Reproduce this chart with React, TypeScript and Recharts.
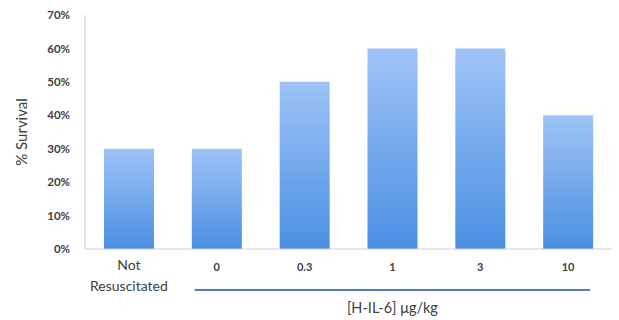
import React from "react";
import { BarChart, Bar, XAxis, YAxis, Label } from "recharts";

const categories = ["Not Resuscitated", "0", "0.3", "1", "3", "10"];
const survival = [0.3, 0.3, 0.5, 0.6, 0.6, 0.4];
const yTicks = [0, 0.1, 0.2, 0.3, 0.4, 0.5, 0.6, 0.7];

const data = categories.map((c, i) => ({ name: c, value: survival[i] }));

const FONT = "Lato, 'Open Sans', sans-serif";

const XTick = (props: any) => {
  const { x, y, payload } = props;
  if (payload.value === "Not Resuscitated") {
    return (
      <g>
        <text x={x} y={y} dy={7} textAnchor="middle" fontSize={14} fill="#404040" fontFamily={FONT}>
          Not
        </text>
        <text x={x} y={y} dy={28} textAnchor="middle" fontSize={14} fill="#404040" fontFamily={FONT}>
          Resuscitated
        </text>
      </g>
    );
  }
  return (
    <text x={x} y={y} dy={8} textAnchor="middle" fontSize={11} fontWeight="bold" fill="#404040" fontFamily={FONT}>
      {payload.value}
    </text>
  );
};

const GroupLabel = (props: any) => {
  const { viewBox } = props;
  const { x, y, width } = viewBox;
  const band = width / categories.length;
  const x1 = x + band + (band - 50) / 2 + 3;
  const x2 = x + width - (band - 50) / 2 - 3;
  return (
    <g>
      <line x1={x1} x2={x2} y1={y + 41} y2={y + 41} stroke="#4f7fc4" strokeWidth={2} />
      <text x={(x1 + x2) / 2} y={y + 64} textAnchor="middle" fontSize={14.5} fill="#404040" fontFamily={FONT}>
        [H-IL-6] μg/kg
      </text>
    </g>
  );
};

export default function App() {
  return (
    <div style={{ position: "absolute", left: 0, top: 0, width: 619, height: 320, background: "#fff" }}>
      <BarChart width={619} height={320} data={data} margin={{ top: 15, right: 7, left: 0, bottom: 0 }}>
        <defs>
          <linearGradient id="barGrad" x1="0" y1="0" x2="0" y2="1">
            <stop offset="0%" stopColor="#9fc3f7" />
            <stop offset="100%" stopColor="#4a8fe2" />
          </linearGradient>
        </defs>
        <XAxis
          dataKey="name"
          height={71}
          tickLine={false}
          tickSize={0}
          tickMargin={14}
          axisLine={{ stroke: "#d0d0d0" }}
          tick={<XTick />}
          interval={0}
        >
          <Label content={<GroupLabel />} />
        </XAxis>
        <YAxis
          width={85}
          domain={[0, 0.7]}
          ticks={yTicks}
          tickFormatter={(v: number) => `${Math.round(v * 100)}%`}
          tickLine={false}
          tickSize={0}
          tickMargin={15}
          axisLine={{ stroke: "#d0d0d0" }}
          tick={{ fontSize: 11.5, fontWeight: "bold", fill: "#404040", fontFamily: FONT }}
          interval={0}
        >
          <Label
            value="% Survival"
            angle={-90}
            position="insideLeft"
            offset={22}
            style={{ textAnchor: "middle", fontSize: 15, fill: "#404040", fontFamily: FONT }}
          />
        </YAxis>
        <Bar dataKey="value" fill="url(#barGrad)" barSize={50} isAnimationActive={false} />
      </BarChart>
    </div>
  );
}
